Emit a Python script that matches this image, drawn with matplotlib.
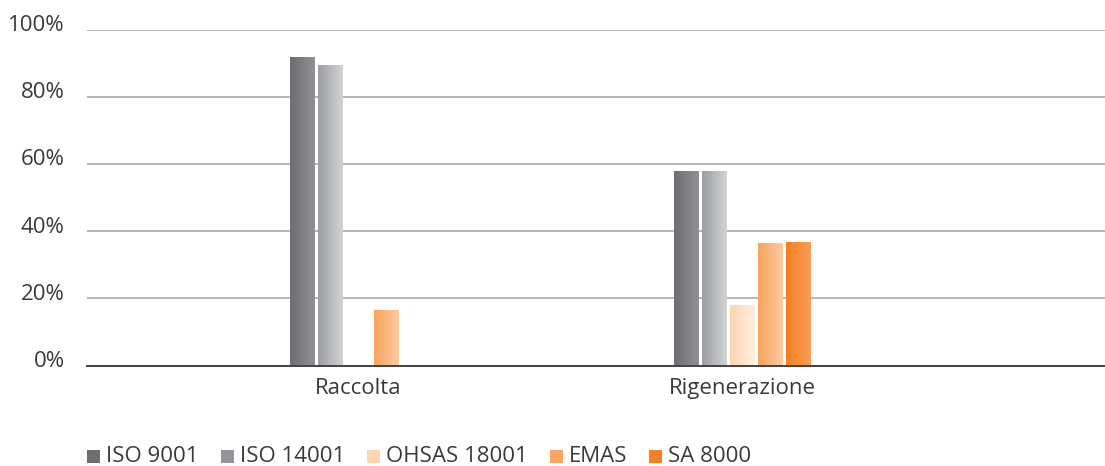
import numpy as np
import matplotlib
matplotlib.use("Agg")
import matplotlib.pyplot as plt
import matplotlib.transforms as mtransforms
from matplotlib.colors import LinearSegmentedColormap
from matplotlib.patches import Rectangle

categories = ["Raccolta", "Rigenerazione"]
series = ["ISO 9001", "ISO 14001", "OHSAS 18001", "EMAS", "SA 8000"]
iso9001 = [91.5, 57.6]
iso14001 = [89.1, 57.6]
ohsas18001 = [0.0, 17.7]
emas = [16.2, 36.2]
sa8000 = [0.0, 36.5]
values = [iso9001, iso14001, ohsas18001, emas, sa8000]

yticks = [0, 20, 40, 60, 80, 100]
ytick_labels = ["0%", "20%", "40%", "60%", "80%", "100%"]

# left / right ends of each bar's horizontal gradient, plus legend swatch colour
grad_left = ["#6d6e71", "#9d9ea1", "#fdd5b0", "#f7a35e", "#f47f24"]
grad_right = ["#909194", "#d1d3d4", "#fff0e2", "#fccba0", "#f89e58"]
swatch = ["#6d6e71", "#939598", "#fdd5b1", "#f9a55f", "#f58025"]

plt.rcParams["font.family"] = ["Open Sans", "DejaVu Sans"]
text_color = "#3a3a3a"
fs = 16

W, H = 1105, 466
fig = plt.figure(figsize=(W / 100, H / 100), dpi=100)
ax = fig.add_axes([87 / W, (H - 365.5) / H, (W - 87) / W, 336 / H])

bar_w = 0.0625
step = 0.0729
n = len(series)
x = np.arange(len(categories))

grad = np.linspace(0, 1, 64).reshape(1, -1)
for i, vals in enumerate(values):
    cmap = LinearSegmentedColormap.from_list(f"g{i}", [grad_left[i], grad_right[i]])
    offs = (i - (n - 1) / 2) * step
    for xc, v in zip(x, vals):
        if v <= 0:
            continue
        x0 = xc + offs - bar_w / 2
        ax.imshow(grad, cmap=cmap, aspect="auto", extent=[x0, x0 + bar_w, 0, v],
                  interpolation="bilinear", zorder=3)

ax.set_xlim(-0.7057, 1.9453)
ax.set_ylim(0, 100)

for yv in yticks[1:]:
    ax.axhline(yv, color="#a7a9ac", linewidth=1.2, zorder=1)
ax.axhline(0, color="#404040", linewidth=1.4, zorder=4, clip_on=False)

for s in ax.spines.values():
    s.set_visible(False)

ax.set_yticks(yticks)
ax.set_yticklabels(ytick_labels)
ax.tick_params(axis="y", length=0, pad=16, labelsize=fs, labelcolor=text_color)
# percentage labels sit slightly above their gridlines
lift = mtransforms.ScaledTranslation(0, 6.5 / 100, fig.dpi_scale_trans)
for lab in ax.get_yticklabels():
    lab.set_transform(lab.get_transform() + lift)

ax.set_xticks(x)
ax.set_xticklabels(categories)
ax.tick_params(axis="x", length=0, pad=9, labelsize=fs, labelcolor=text_color)

# legend row along the bottom
lx = 87
for i, name in enumerate(series):
    fig.patches.append(Rectangle((lx / W, (H - 462.5) / H), 13 / W, 12.5 / H,
                                 transform=fig.transFigure, facecolor=swatch[i],
                                 edgecolor="none"))
    t = fig.text((lx + 19) / W, (H - 456) / H, name, fontsize=fs, color=text_color,
                 va="center", ha="left")
    fig.canvas.draw()
    bb = t.get_window_extent()
    lx = bb.x1 + 22

fig.savefig("out.png", dpi=100)
